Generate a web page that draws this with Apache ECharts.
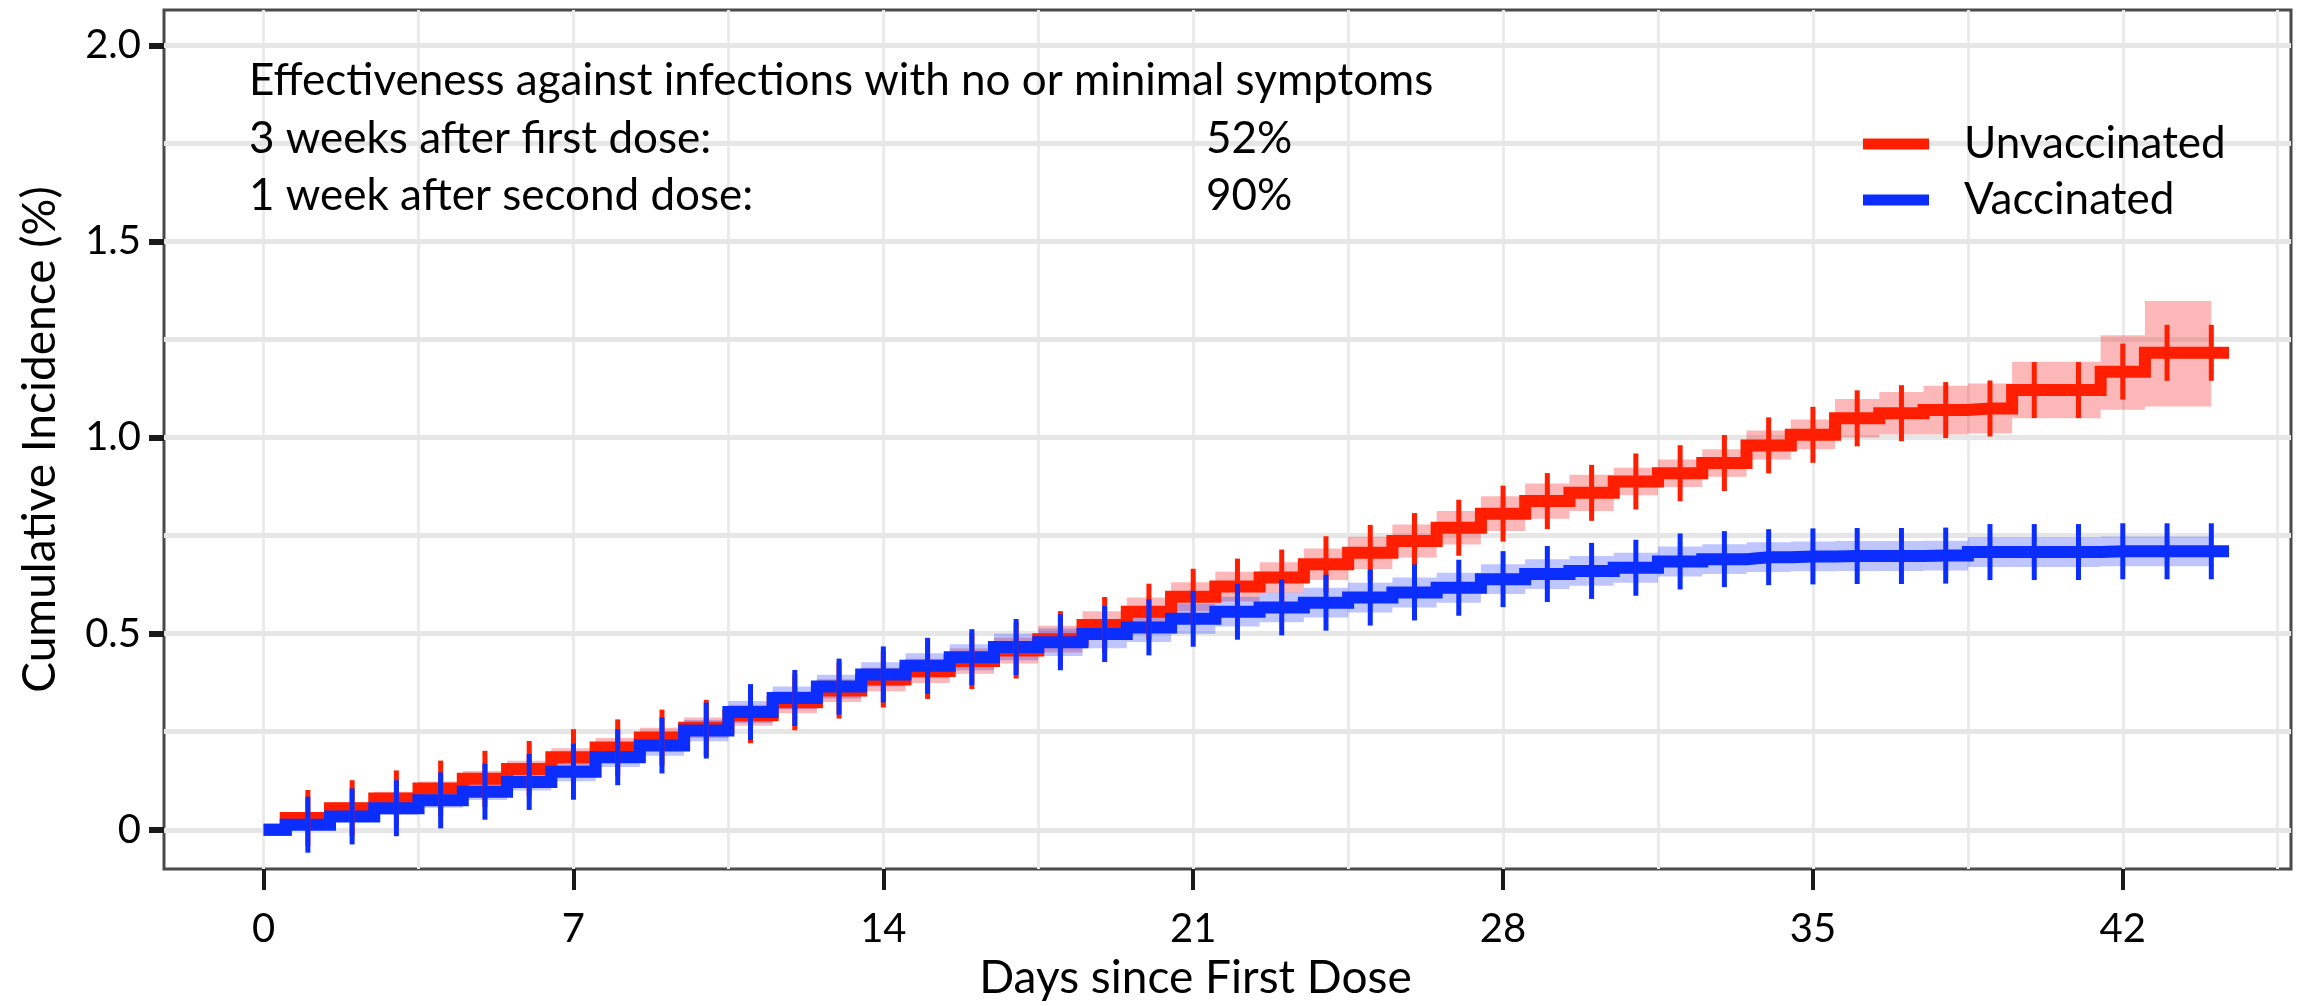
<!DOCTYPE html>
<html>
<head>
<meta charset="utf-8">
<title>Cumulative incidence</title>
<script src="https://cdn.jsdelivr.net/npm/echarts@6/dist/echarts.min.js"></script>
<style>
    html, body { margin: 0; padding: 0; background: #fff; }
    #chart { width: 2321px; height: 1006px; }
</style>
</head>
<body>
<div id="chart"></div>
<script>
    // days since first dose (a censor mark is drawn on every day)
    const days = [0, 1, 2, 3, 4, 5, 6, 7, 8, 9, 10, 11, 12, 13, 14, 15, 16, 17, 18, 19, 20, 21,
        22, 23, 24, 25, 26, 27, 28, 29, 30, 31, 32, 33, 34, 35, 36, 37, 38, 39, 40, 41, 42, 43, 44];
    const endDay = 44.4;

    // cumulative incidence (%)
    const unvacc = [0, 0.03, 0.055, 0.08, 0.105, 0.13, 0.155, 0.185, 0.21, 0.235, 0.26, 0.292,
        0.325, 0.355, 0.383, 0.405, 0.43, 0.457, 0.486, 0.522, 0.556, 0.594, 0.62, 0.643,
        0.677, 0.706, 0.736, 0.77, 0.806, 0.838, 0.859, 0.888, 0.909, 0.935, 0.98, 1.007,
        1.049, 1.062, 1.07, 1.074, 1.121, 1.121, 1.168, 1.216, 1.216];
    const unvaccLo = [0, 0.018, 0.04, 0.063, 0.087, 0.11, 0.134, 0.162, 0.186, 0.21, 0.234, 0.265,
        0.297, 0.326, 0.353, 0.374, 0.398, 0.424, 0.452, 0.487, 0.52, 0.557, 0.582, 0.604,
        0.637, 0.665, 0.694, 0.727, 0.762, 0.793, 0.813, 0.853, 0.874, 0.9, 0.944, 0.97,
        1.0, 1.008, 1.008, 1.01, 1.049, 1.049, 1.071, 1.079, 1.079];
    const unvaccHi = [0, 0.042, 0.07, 0.097, 0.123, 0.15, 0.176, 0.208, 0.234, 0.26, 0.286, 0.319,
        0.353, 0.384, 0.413, 0.436, 0.462, 0.49, 0.52, 0.557, 0.592, 0.631, 0.658, 0.682,
        0.717, 0.747, 0.778, 0.813, 0.85, 0.883, 0.905, 0.923, 0.944, 0.97, 1.018, 1.046,
        1.098, 1.116, 1.132, 1.138, 1.193, 1.193, 1.261, 1.348, 1.348];

    const vacc = [0, 0.013, 0.034, 0.055, 0.075, 0.097, 0.122, 0.148, 0.185, 0.215, 0.253, 0.3,
        0.336, 0.365, 0.396, 0.418, 0.44, 0.466, 0.478, 0.499, 0.516, 0.538, 0.556, 0.567,
        0.579, 0.592, 0.605, 0.617, 0.639, 0.652, 0.66, 0.668, 0.684, 0.69, 0.695, 0.697,
        0.698, 0.698, 0.699, 0.708, 0.708, 0.708, 0.71, 0.71, 0.71];
    const vaccLo = [0, 0.003, 0.02, 0.038, 0.056, 0.076, 0.1, 0.124, 0.16, 0.189, 0.226, 0.272,
        0.307, 0.335, 0.365, 0.386, 0.407, 0.432, 0.443, 0.463, 0.479, 0.5, 0.518, 0.529,
        0.541, 0.554, 0.567, 0.579, 0.601, 0.614, 0.622, 0.63, 0.646, 0.652, 0.657, 0.659,
        0.66, 0.66, 0.661, 0.67, 0.67, 0.67, 0.672, 0.672, 0.672];
    const vaccHi = [0, 0.023, 0.048, 0.072, 0.094, 0.118, 0.144, 0.172, 0.21, 0.241, 0.28, 0.328,
        0.365, 0.395, 0.427, 0.45, 0.473, 0.5, 0.513, 0.535, 0.553, 0.576, 0.594, 0.605,
        0.617, 0.63, 0.643, 0.655, 0.677, 0.69, 0.698, 0.706, 0.722, 0.728, 0.733, 0.735,
        0.736, 0.736, 0.737, 0.746, 0.746, 0.746, 0.748, 0.748, 0.748];

    // axis ticks and grid
    const xTicks = [0, 7, 14, 21, 28, 35, 42];
    const yTicks = [0, 0.5, 1, 1.5, 2];
    const yTickLabels = ['0', '0.5', '1.0', '1.5', '2.0'];
    const xGrid = [0, 3.5, 7, 10.5, 14, 17.5, 21, 24.5, 28, 31.5, 35, 38.5, 42, 45.5];
    const yGrid = [0, 0.25, 0.5, 0.75, 1, 1.25, 1.5, 1.75, 2];

    const FONT = 'Lato';
    const RED = '#ff1e00';
    const BLUE = '#0b2eff';

    const chart = echarts.init(document.getElementById('chart'));

    function lineData(vals) {
        const d = days.map((x, i) => i === 0 ? {value: [x, vals[i]], symbol: 'none'} : [x, vals[i]]);
        d.push({value: [endDay, vals[vals.length - 1]], symbol: 'none'});
        return d;
    }

    // confidence band as one stepped polygon (steps half way between days, like step: 'middle')
    function band(name, lo, hi, color) {
        return {
            type: 'custom', name: name, silent: true, z: 2,
            data: days.map((x, i) => [x, lo[i], hi[i]]),
            renderItem: function (params, api) {
                if (params.dataIndex !== 0) return null;
                const n = days.length;
                const edge = i => i === 0 ? days[0] : (i === n ? days[n - 1] : (days[i - 1] + days[i]) / 2);
                const top = [], bottom = [];
                for (let i = 0; i < n; i++) {
                    top.push(api.coord([edge(i), hi[i]]), api.coord([edge(i + 1), hi[i]]));
                    bottom.push(api.coord([edge(i), lo[i]]), api.coord([edge(i + 1), lo[i]]));
                }
                return {
                    type: 'polygon',
                    shape: {points: top.concat(bottom.reverse())},
                    style: {fill: color}
                };
            }
        };
    }

    function curve(name, vals, color) {
        return {
            type: 'line', name: name, step: 'middle', z: 3,
            data: lineData(vals),
            symbol: 'rect', symbolSize: [5, 56], showSymbol: true, showAllSymbol: true,
            itemStyle: {color: color, borderWidth: 0},
            lineStyle: {color: color, width: 12, join: 'miter'},
            emphasis: {disabled: true}
        };
    }

    const gridLines = {
        type: 'line', name: 'grid', data: [], silent: true, z: 1,
        markLine: {
            silent: true, symbol: ['none', 'none'], animation: false, z: 1,
            label: {show: false}, emphasis: {disabled: true},
            data: xGrid.map(v => ({xAxis: v, lineStyle: {color: '#ebebeb', width: 3, type: 'solid'}}))
                .concat(yGrid.map(v => ({yAxis: v, lineStyle: {color: '#e6e6e6', width: 5, type: 'solid'}})))
        }
    };

    const txt = (text, x, y) => ({
        type: 'text', x: x, y: y, z: 100, silent: true,
        style: {text: text, fill: '#000', font: '44px ' + FONT, align: 'left', verticalAlign: 'middle'}
    });

    const option = {
        animation: false,
        backgroundColor: '#fff',
        grid: {
            left: 164, right: 30, top: 10, bottom: 134,
            show: true, borderColor: '#4a4a4a', borderWidth: 3, backgroundColor: '#fff'
        },
        xAxis: {
            type: 'value', min: -2.25, max: 45.8,
            name: 'Days since First Dose', nameLocation: 'middle', nameGap: 86,
            nameTextStyle: {fontFamily: FONT, fontSize: 46, color: '#000', padding: [0, 64, 0, 0]},
            axisLine: {show: false, onZero: false},
            splitLine: {show: false},
            axisTick: {customValues: xTicks, length: 21, lineStyle: {color: '#1a1a1a', width: 4}},
            axisLabel: {customValues: xTicks, margin: 40, fontFamily: FONT, fontSize: 40, color: '#000'}
        },
        yAxis: {
            type: 'value', min: -0.1, max: 2.09,
            name: 'Cumulative Incidence (%)', nameLocation: 'middle', nameGap: 101,
            nameTextStyle: {fontFamily: FONT, fontSize: 46, color: '#000'},
            axisLine: {show: false, onZero: false},
            splitLine: {show: false},
            axisTick: {customValues: yTicks, length: 15, lineStyle: {color: '#1a1a1a', width: 6}},
            axisLabel: {
                customValues: yTicks, margin: 23, fontFamily: FONT, fontSize: 40, color: '#000',
                formatter: v => yTickLabels[yTicks.indexOf(v)]
            }
        },
        legend: {
            data: ['Unvaccinated', 'Vaccinated'],
            orient: 'vertical', left: 1858, top: 116,
            icon: 'rect', itemWidth: 66, itemHeight: 11, itemGap: 10,
            selectedMode: false,
            textStyle: {fontFamily: FONT, fontSize: 44, color: '#000', lineHeight: 46, padding: [0, 0, 0, 30]}
        },
        graphic: {
            elements: [
                txt('Effectiveness against infections with no or minimal symptoms', 249, 81),
                txt('3 weeks after first dose:', 249, 139),
                txt('1 week after second dose:', 249, 196),
                txt('52%', 1206, 139),
                txt('90%', 1206, 196)
            ]
        },
        series: [
            gridLines,
            band('Unvaccinated band', unvaccLo, unvaccHi, 'rgba(245, 40, 40, 0.33)'),
            band('Vaccinated band', vaccLo, vaccHi, 'rgba(20, 45, 255, 0.27)'),
            curve('Unvaccinated', unvacc, RED),
            curve('Vaccinated', vacc, BLUE)
        ]
    };

    chart.setOption(option);
</script>
</body>
</html>
